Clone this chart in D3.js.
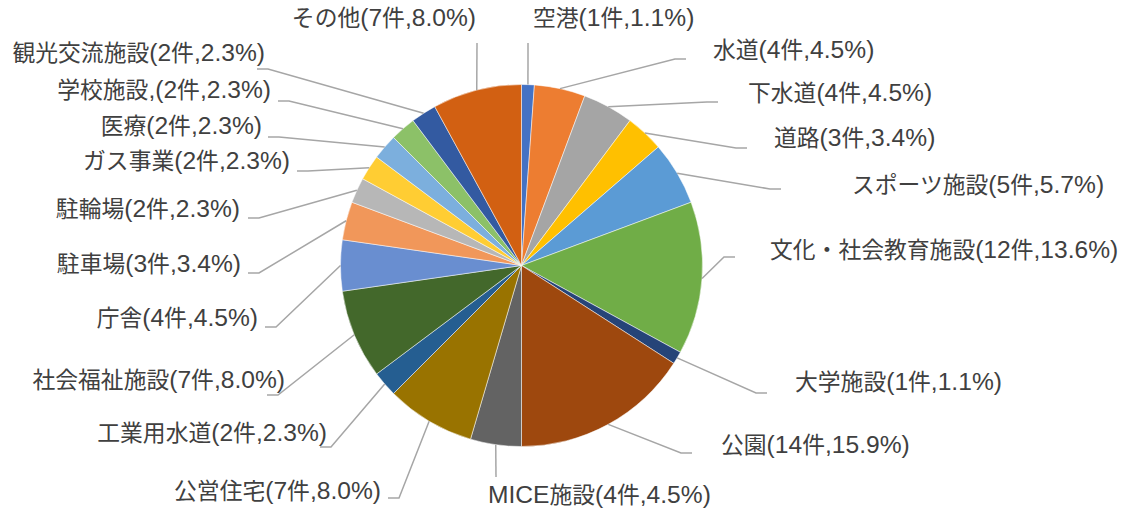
<!DOCTYPE html>
<html>
<head>
<meta charset="utf-8">
<script src="https://cdn.jsdelivr.net/npm/d3@7"></script>
<style>
    body { margin: 0; background: #fff; }
    .canvas svg { display: block; }
</style>
</head>
<body>
<div class="canvas"></div>
<script>
const categories = [
    '空港', '水道', '下水道', '道路', 'スポーツ施設', '文化・社会教育施設', '大学施設',
    '公園', 'MICE施設', '公営住宅', '工業用水道', '社会福祉施設', '庁舎', '駐車場',
    '駐輪場', 'ガス事業', '医療', '学校施設,', '観光交流施設', 'その他'
]

const counts = [1, 4, 4, 3, 5, 12, 1, 14, 4, 7, 2, 7, 4, 3, 2, 2, 2, 2, 2, 7]

const sliceColors = [
    '#4472C4', '#ED7D31', '#A5A5A5', '#FFC000', '#5B9BD5', '#70AD47', '#264478',
    '#9E480E', '#636363', '#997300', '#255E91', '#43682B', '#698ED0', '#F1975A',
    '#B7B7B7', '#FFCD33', '#7CAFDD', '#8CC168', '#335AA1', '#D26012'
]

// label layout (dragged by hand in the original): text anchor x, text centre y, side
const labelPos = [
    [533, 20, 'start'], [713, 52, 'start'], [748, 95, 'start'], [774, 140, 'start'],
    [852, 187, 'start'], [770, 252, 'start'], [795, 384, 'start'], [721, 447, 'start'],
    [488, 497, 'start'], [381, 493, 'end'], [327, 435, 'end'], [285, 382, 'end'],
    [258, 320, 'end'], [241, 266, 'end'], [240, 211, 'end'], [290, 163, 'end'],
    [262, 128, 'end'], [271, 92, 'end'], [265, 55, 'end'], [476, 20, 'end']
]

// where each leader line stops next to its label
const leaderEnd = [
    [528, 43], [686, 59], [718, 102], [747, 148], [781, 189], [735, 257], [767, 393],
    [692, 453], [496, 477], [388, 498], [320, 447], [267, 395], [265, 327], [248, 273],
    [248, 218], [297, 171], [268, 137], [278, 101], [257, 69], [477, 43]
]

const dims = {
    width: 1146,
    height: 511,
    radius: 181
}

const cent = { x: 521.5, y: 265.5 }

const data = categories.map((name, i) => ({ name, count: counts[i], i }))
const total = d3.sum(counts)
const pctFmt = d3.format('.1f')

const svg = d3.select('.canvas')
    .append('svg')
    .attr('width', dims.width)
    .attr('height', dims.height)

const graph = svg.append('g')
    .attr('transform', `translate(${cent.x}, ${cent.y})`)

const pie = d3.pie()
    .sort(null)
    .value(d => d.count)

const arcPath = d3.arc()
    .outerRadius(dims.radius)
    .innerRadius(0)

const edgeArc = d3.arc()
    .outerRadius(dims.radius)
    .innerRadius(dims.radius)

const colors = d3.scaleOrdinal()
    .domain(categories)
    .range(sliceColors)

const arcs = pie(data)

// leader lines first, slices paint over their inner ends
const leaders = svg.append('g')
arcs.forEach(d => {
    const c = edgeArc.centroid(d)
    const p0 = [c[0] + cent.x, c[1] + cent.y]
    const end = leaderEnd[d.data.i]
    const side = labelPos[d.data.i][2] === 'start' ? 1 : -1
    const vertical = Math.abs(end[0] - p0[0]) < 5
    const elbow = vertical ? end : [end[0] - side * 11, end[1]]
    leaders.append('path')
        .attr('d', d3.line()([p0, elbow, end]))
        .attr('fill', 'none')
        .attr('stroke', '#A6A6A6')
        .attr('stroke-width', 1.5)
})

graph.selectAll('path')
    .data(arcs)
    .enter()
    .append('path')
    .attr('d', arcPath)
    .attr('fill', d => colors(d.data.name))
    .attr('stroke', '#fff')
    .attr('stroke-width', 0.5)

// Excel mixes a Japanese face with a wider latin face, so split the runs
const cjk = /([\u3000-\u30ff\u4e00-\u9fff\uff00-\uffef]+)/
const labelText = d => `${d.name}(${d.count}件,${pctFmt(d.count / total * 100)}%)`

const labels = svg.append('g')
    .selectAll('text')
    .data(data)
    .enter()
    .append('text')
    .attr('x', d => labelPos[d.i][0])
    .attr('y', d => labelPos[d.i][1])
    .attr('dy', '0.36em')
    .attr('text-anchor', d => labelPos[d.i][2])
    .attr('fill', '#404040')

labels.each(function(d) {
    const parts = labelText(d).split(cjk).filter(s => s.length)
    d3.select(this).selectAll('tspan')
        .data(parts)
        .enter()
        .append('tspan')
        .attr('font-family', s => cjk.test(s) ? '"Noto Sans CJK JP", sans-serif' : '"Liberation Sans", Arial, sans-serif')
        .attr('font-size', s => cjk.test(s) ? 22.8 : 24.6)
        .text(s => s)
})
</script>
</body>
</html>
